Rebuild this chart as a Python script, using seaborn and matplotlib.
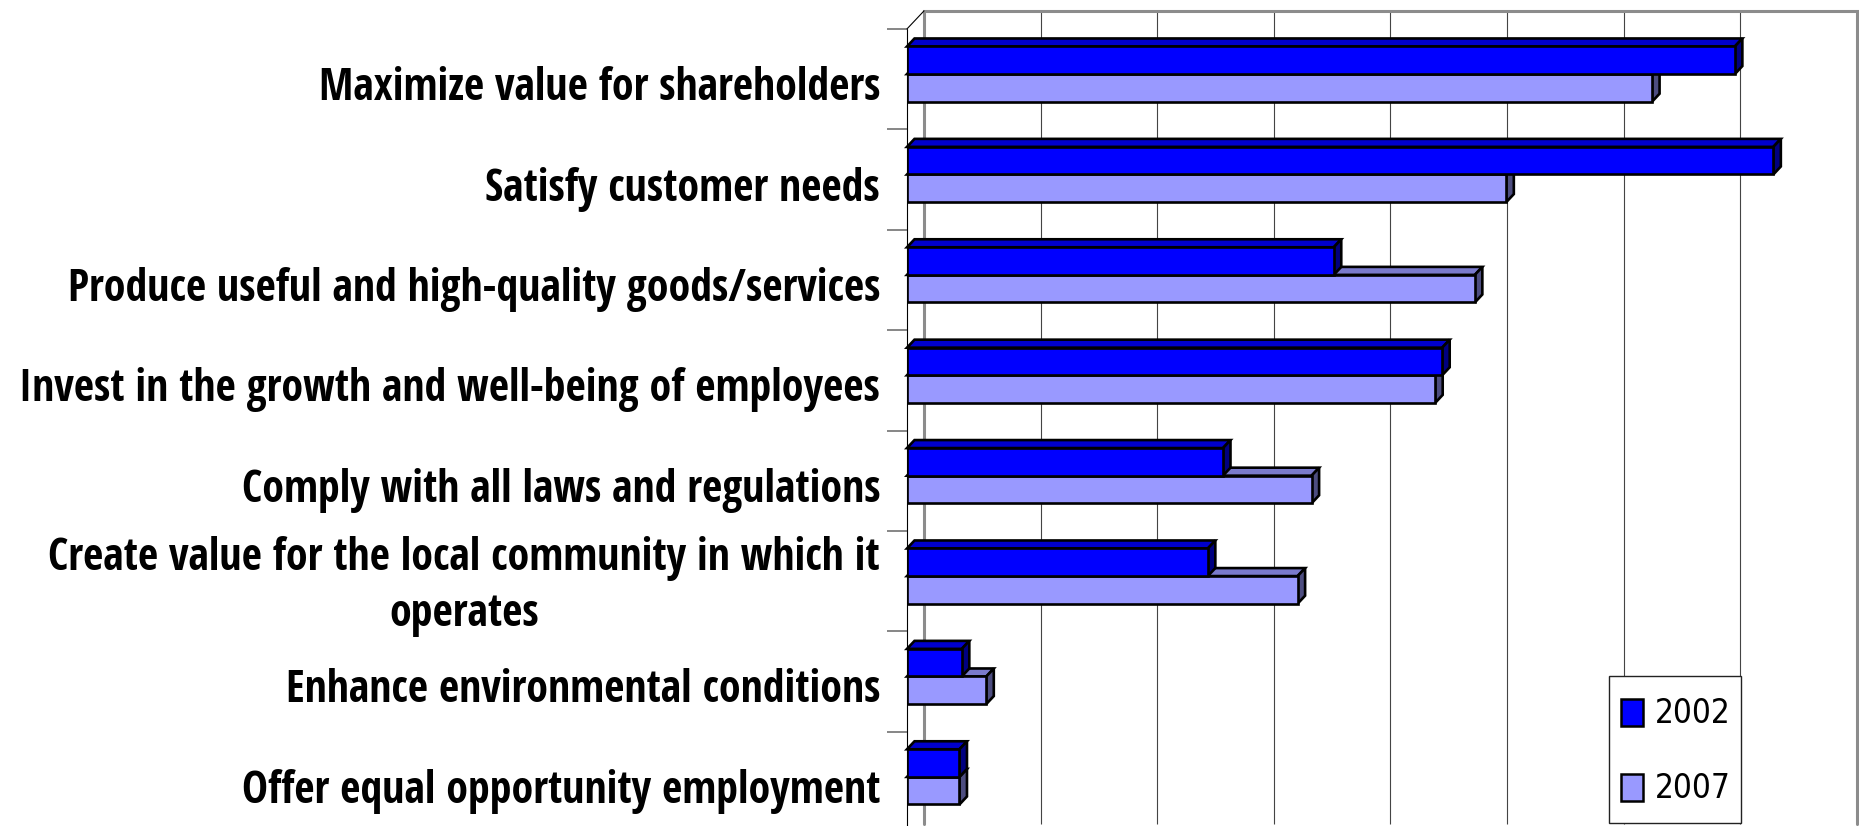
import numpy as np
import pandas as pd
import matplotlib
matplotlib.use('Agg')
import matplotlib.pyplot as plt
import matplotlib.transforms as mtransforms
from matplotlib import font_manager as fm
from matplotlib.patches import Polygon, Patch, Rectangle
from matplotlib.legend_handler import HandlerPatch
from matplotlib.lines import Line2D
import seaborn as sns

# data (percent of respondents)
categories = [
    "Maximize value for shareholders",
    "Satisfy customer needs",
    "Produce useful and high-quality goods/services",
    "Invest in the growth and well-being of employees",
    "Comply with all laws and regulations",
    "Create value for the local community in which it\noperates",
    "Enhance environmental conditions",
    "Offer equal opportunity employment",
]
years = ["2002", "2007"]
values_2002 = [71.0, 74.3, 36.6, 45.9, 27.1, 25.8, 4.7, 4.5]
values_2007 = [63.9, 51.4, 48.7, 45.3, 34.7, 33.5, 6.8, 4.5]

front_colors = {"2002": "#0000FF", "2007": "#9999FF"}
top_colors = {"2002": "#0000CC", "2007": "#7A7ACC"}
side_colors = {"2002": "#000080", "2007": "#4D4D80"}

sns.set_style("white")
plt.rcParams['font.family'] = ['Liberation Sans', 'DejaVu Sans']
plt.rcParams['text.color'] = 'black'


# the original uses a narrow (Arial Narrow like) face; take a condensed one if there is one
def pick_font(bold):
    order = ['Liberation Sans Narrow', 'Arial Narrow', 'Roboto Condensed', 'Noto Sans',
             'Open Sans', 'DejaVu Sans', 'Roboto', 'Lato', 'Inter']
    best = None
    for f in fm.fontManager.ttflist:
        w = f.weight if isinstance(f.weight, (int, float)) else fm.weight_dict.get(f.weight, 400)
        if bold and not (600 <= w < 800):
            continue
        if not bold and not (350 <= w < 500):
            continue
        if f.style != 'normal':
            continue
        fname = f.fname.lower()
        narrow = ('narrow' in f.name.lower() or 'condensed' in f.name.lower()
                  or f.stretch in ('condensed', 'semi-condensed'))
        if not narrow or 'extra' in fname or 'ultra' in fname or 'mono' in fname:
            continue
        fam = f.name.split(' Condensed')[0].split(' SemiCondensed')[0]
        rank = order.index(fam) if fam in order else (order.index(f.name) if f.name in order else 50)
        if 'semi' in fname:
            rank += 0.5
        if best is None or rank < best[0]:
            best = (rank, f.fname)
    if best is not None:
        return fm.FontProperties(fname=best[1])
    return fm.FontProperties(family='Liberation Sans', weight='bold' if bold else 'normal')


W, H = 1859, 826
fig = plt.figure(figsize=(W / 100, H / 100), dpi=100)
renderer = fig.canvas.get_renderer()


def text_size(s, fp, size, ls=1.2):
    p = fp.copy()
    p.set_size(size)
    t = fig.text(0, 0, s, fontproperties=p, linespacing=ls)
    bb = t.get_window_extent(renderer)
    t.remove()
    return bb.width, bb.height


label_fp = pick_font(True)
legend_fp = pick_font(False)

# font sizes fitted to the widths measured on the reference
w0, _ = text_size("Maximize value for shareholders", label_fp, 30)
w_long, _ = text_size(categories[3], label_fp, 30)
label_size = min(30 * 575 / w0, 30 * 860 / w_long)
w1, _ = text_size("2002", legend_fp, 30)
legend_size = 30 * 76 / w1

# line pitch of the two-line label: 56 px
_, h1 = text_size("operates", label_fp, label_size)
_, ha = text_size("Ag\noperates", label_fp, label_size, 1.0)
_, hb = text_size("Ag\noperates", label_fp, label_size, 2.0)
A = hb - ha
D = (ha - h1) - A
two_ls = max(1.0, (56 - D) / A)

# front plane of the 3d plot, in pixels
ax_left, ax_right, ax_top, ax_bot = 907, 1839.8, 28.9, 832.1
ax = fig.add_axes([ax_left / W, 1 - ax_bot / H, (ax_right - ax_left) / W, (ax_bot - ax_top) / H])

df = pd.DataFrame({
    "cat": categories * 2,
    "year": ["2002"] * len(categories) + ["2007"] * len(categories),
    "value": values_2002 + values_2007,
})

sns.barplot(data=df, x="value", y="cat", hue="year", orient="h", palette=front_colors,
            saturation=1, width=0.55, edgecolor="black", linewidth=1.9,
            legend=False, ax=ax)

xmax = 80
ax.set_xlim(0, xmax)
ax.set_ylim(len(categories) - 0.5, -0.5)
ax.set_xticks([])
ax.set_yticks([])
ax.set_xlabel("")
ax.set_ylabel("")
for s in ax.spines.values():
    s.set_visible(False)
ax.patch.set_alpha(0)

px_x = (ax_right - ax_left) / xmax          # pixels per percent
px_y = (ax_bot - ax_top) / len(categories)   # pixels per category

# depth of the bars
bdx = 7.5 / px_x
bdy = 8 / px_y

for k, (year, cont) in enumerate(zip(years, ax.containers)):
    z = 3 - k  # 2002 drawn above 2007
    for p in cont.patches:
        p.set_y(p.get_y() - 0.05)
        p.set_zorder(z + 0.5)
        x0, x1 = p.get_x(), p.get_x() + p.get_width()
        yt, yb = p.get_y(), p.get_y() + p.get_height()
        top = Polygon([(x0, yt), (x1, yt), (x1 + bdx, yt - bdy), (x0 + bdx, yt - bdy)],
                      closed=True, facecolor=top_colors[year], edgecolor="black",
                      linewidth=1.9, zorder=z, clip_on=False)
        side = Polygon([(x1, yt), (x1 + bdx, yt - bdy), (x1 + bdx, yb - bdy), (x1, yb)],
                       closed=True, facecolor=side_colors[year], edgecolor="black",
                       linewidth=1.9, zorder=z, clip_on=False)
        ax.add_patch(top)
        ax.add_patch(side)

# back wall and gridlines (offset in depth)
wall = mtransforms.offset_copy(ax.transData, fig=fig, x=17, y=18, units="dots")
ybot = len(categories) - 0.4
ax.vlines(np.arange(10, xmax, 10), -0.5, ybot, colors="#444444", linewidth=0.8,
          transform=wall, zorder=0.5, clip_on=False)
ax.plot([0, 0, xmax, xmax], [ybot, -0.5, -0.5, ybot], color="#8c8c8c", linewidth=2.2,
        transform=wall, zorder=0.6, clip_on=False, solid_joinstyle="miter")

# front axis line, side wall edge and category ticks
ax.plot([0, 0], [-0.5, ybot], color="black", linewidth=0.8, zorder=0.7, clip_on=False)
p0 = ax.transData.transform((0, -0.5))
fig.add_artist(Line2D([p0[0], p0[0] + 17], [p0[1], p0[1] + 18], color="black",
                      linewidth=0.8, transform=mtransforms.IdentityTransform()))
tick_len = 20 / (ax_right - ax_left)
ax.hlines(np.arange(len(categories)) - 0.5, -tick_len, 0, colors="#666666", linewidth=1.1,
          transform=ax.get_yaxis_transform(), clip_on=False)

# category labels
lab_tr = ax.get_yaxis_transform() + mtransforms.ScaledTranslation(-27 / 100, 0, fig.dpi_scale_trans)
lab_p = label_fp.copy()
lab_p.set_size(label_size)
for i, lab in enumerate(categories):
    if "\n" in lab:
        ax.text(0, i + 0.05, lab, transform=lab_tr, ha="right", va="center",
                multialignment="center", fontproperties=lab_p, linespacing=two_ls,
                color="black")
    else:
        ax.text(0, i + 21 / px_y, lab, transform=lab_tr, ha="right", va="baseline",
                fontproperties=lab_p, color="black")

# legend: small square keys inside taller rows
leg_p = legend_fp.copy()
leg_p.set_size(legend_size)
fs_px = legend_size * 100 / 72
row_h = 61


def small_key(legend, orig_handle, xdescent, ydescent, width, height, fontsize):
    kw, kh = 22 * 0.72, 27 * 0.72
    return Rectangle((-xdescent, -ydescent + (height - kh) / 2), kw, kh)


handles = [Patch(facecolor=front_colors[y], edgecolor="black", linewidth=1.8) for y in years]
leg = fig.legend(handles, years, loc="lower left",
                 bbox_to_anchor=(1609 / W, 3 / H, 132 / W, 150 / H), mode="expand",
                 prop=leg_p, frameon=True, fancybox=False, framealpha=1,
                 edgecolor="#222222", borderpad=12 / fs_px,
                 handlelength=22 / fs_px, handleheight=row_h / fs_px,
                 handletextpad=12 / fs_px, labelspacing=27 / fs_px,
                 borderaxespad=0,
                 handler_map={Patch: HandlerPatch(patch_func=small_key)})
leg.get_frame().set_linewidth(1.0)
leg.set_zorder(10)

fig.savefig("out.png", dpi=100)
